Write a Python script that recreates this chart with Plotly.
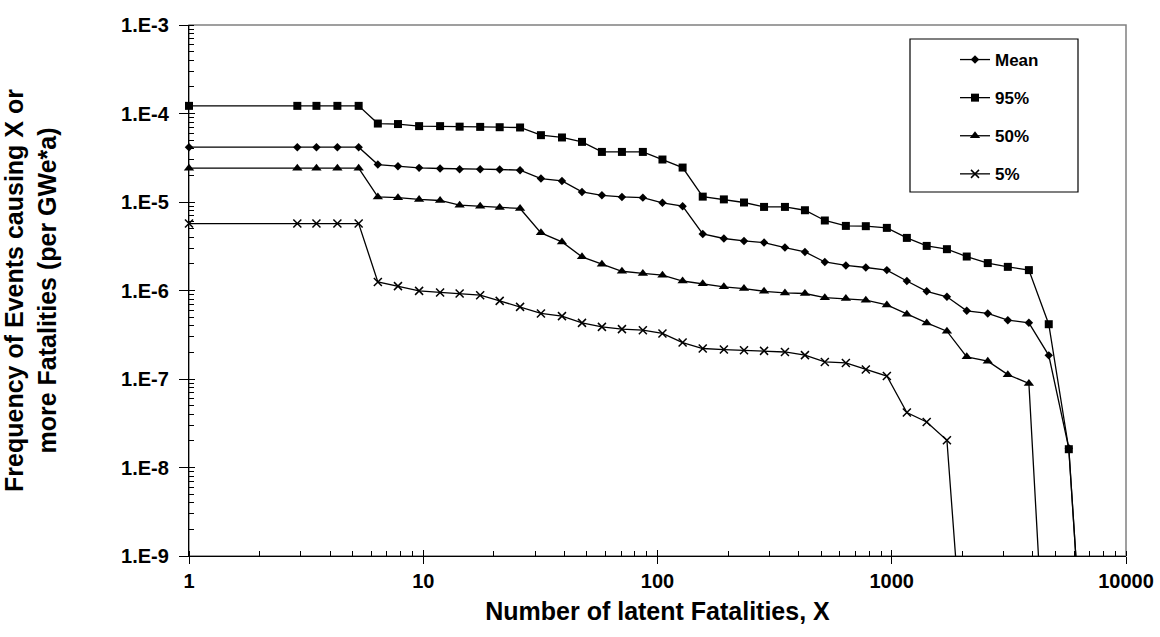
import plotly.graph_objects as go

fatalities = [1, 2.9, 3.5, 4.3, 5.3, 6.4, 7.8, 9.6, 11.8, 14.3, 17.5, 21.2, 25.9, 31.8,
              39.1, 47.6, 57.9, 70.5, 86.6, 105, 128, 156, 192, 234, 285, 350, 426, 518,
              637, 775, 953, 1160, 1410, 1720, 2090, 2570, 3130, 3850, 4680, 5700, 7000]

mean_freq = [4.16e-5, 4.16e-5, 4.16e-5, 4.16e-5, 4.16e-5, 2.65e-5, 2.54e-5, 2.43e-5, 2.39e-5,
             2.35e-5, 2.35e-5, 2.33e-5, 2.29e-5, 1.84e-5, 1.73e-5, 1.30e-5, 1.19e-5, 1.14e-5,
             1.12e-5, 9.8e-6, 8.97e-6, 4.36e-6, 3.87e-6, 3.63e-6, 3.48e-6, 3.06e-6, 2.73e-6,
             2.1e-6, 1.92e-6, 1.82e-6, 1.7e-6, 1.28e-6, 9.8e-7, 8.5e-7, 5.9e-7, 5.5e-7,
             4.62e-7, 4.31e-7, 1.85e-7, 1.65e-8, 4e-12]

p95_freq = [1.22e-4, 1.22e-4, 1.22e-4, 1.22e-4, 1.22e-4, 7.7e-5, 7.6e-5, 7.2e-5, 7.2e-5,
            7.1e-5, 7.06e-5, 7.0e-5, 6.95e-5, 5.69e-5, 5.36e-5, 4.78e-5, 3.68e-5, 3.68e-5,
            3.68e-5, 3.02e-5, 2.45e-5, 1.15e-5, 1.07e-5, 9.87e-6, 8.8e-6, 8.8e-6, 8.07e-6,
            6.18e-6, 5.37e-6, 5.33e-6, 5.1e-6, 3.93e-6, 3.19e-6, 2.93e-6, 2.42e-6, 2.04e-6,
            1.85e-6, 1.7e-6, 4.16e-7, 1.61e-8, 4e-12]

p50_freq = [2.41e-5, 2.41e-5, 2.41e-5, 2.41e-5, 2.41e-5, 1.14e-5, 1.12e-5, 1.07e-5, 1.04e-5,
            9.2e-6, 8.97e-6, 8.67e-6, 8.45e-6, 4.48e-6, 3.54e-6, 2.4e-6, 1.98e-6, 1.65e-6,
            1.56e-6, 1.49e-6, 1.28e-6, 1.19e-6, 1.1e-6, 1.05e-6, 9.8e-7, 9.4e-7, 9.25e-7,
            8.3e-7, 8.1e-7, 7.77e-7, 6.87e-7, 5.4e-7, 4.3e-7, 3.47e-7, 1.78e-7, 1.59e-7,
            1.12e-7, 8.9e-8, 8e-12]

p05_freq = [5.71e-6, 5.71e-6, 5.71e-6, 5.71e-6, 5.71e-6, 1.25e-6, 1.12e-6, 9.9e-7, 9.5e-7,
            9.25e-7, 8.85e-7, 7.63e-7, 6.53e-7, 5.5e-7, 5.13e-7, 4.31e-7, 3.88e-7, 3.66e-7,
            3.56e-7, 3.27e-7, 2.58e-7, 2.21e-7, 2.15e-7, 2.11e-7, 2.08e-7, 2.02e-7, 1.86e-7,
            1.56e-7, 1.52e-7, 1.28e-7, 1.08e-7, 4.18e-8, 3.27e-8, 2.03e-8, 2e-11]

series_names = ["Mean", "95%", "50%", "5%"]
x_tick_vals = [1, 10, 100, 1000, 10000]
x_tick_text = ["1", "10", "100", "1000", "10000"]
y_tick_vals = [1e-9, 1e-8, 1e-7, 1e-6, 1e-5, 1e-4, 1e-3]
y_tick_text = ["1.E-9", "1.E-8", "1.E-7", "1.E-6", "1.E-5", "1.E-4", "1.E-3"]

FONT = "Arial, Liberation Sans, sans-serif"

fig = go.Figure()
specs = [
    (series_names[0], mean_freq, dict(symbol="diamond", size=6.5)),
    (series_names[1], p95_freq, dict(symbol="square", size=8)),
    (series_names[2], p50_freq, dict(symbol="triangle-up", size=9)),
    (series_names[3], p05_freq, dict(symbol="x-thin", size=8, line=dict(width=1.5, color="black"))),
]
for i, (name, vals, mk) in enumerate(specs):
    fig.add_trace(go.Scatter(
        x=fatalities[:len(vals)], y=vals, name=name, mode="lines+markers",
        line=dict(color="black", width=1.3),
        marker=dict(color="black", **mk),
        legendgroup=f"g{i}", cliponaxis=False,
    ))

# invisible helper trace so the overlay axes (inner half of crossing major ticks) render
fig.add_trace(go.Scatter(x=[fatalities[0]], y=[p95_freq[0]], xaxis="x2", yaxis="y2",
                         mode="markers", marker=dict(opacity=0), showlegend=False,
                         hoverinfo="skip"))

# plot-area border (grey) and legend box
fig.add_shape(type="rect", xref="paper", yref="paper", x0=0, y0=0, x1=1, y1=1,
              line=dict(color="#808080", width=1.5), layer="below")
fig.add_shape(type="rect", xref="paper", yref="paper",
              x0=(910 - 189) / 937, x1=(1078 - 189) / 937,
              y0=(556 - 192) / 531, y1=(556 - 39) / 531,
              line=dict(color="black", width=1.2), fillcolor="white", layer="below")

tickfont = dict(family=FONT, size=20, color="black", weight="bold")
titlefont = dict(family=FONT, size=25, color="black", weight="bold")

fig.update_layout(
    width=1160, height=637,
    margin=dict(l=189, r=34, t=25, b=81, autoexpand=False),
    paper_bgcolor="white", plot_bgcolor="white",
    font=dict(family=FONT, color="black"),
    showlegend=True,
    legend=dict(x=(955 - 189) / 937, y=(556 - 42) / 531, xanchor="left", yanchor="top",
                bgcolor="rgba(0,0,0,0)", borderwidth=0,
                font=dict(family=FONT, size=17, color="black", weight="bold"),
                tracegroupgap=13, itemwidth=30),
    xaxis=dict(
        type="log", range=[0, 4], automargin=False,
        tickvals=x_tick_vals, ticktext=x_tick_text, tickfont=tickfont,
        ticks="outside", ticklen=7, tickwidth=1, tickcolor="black",
        showline=True, linecolor="black", linewidth=1.3,
        showgrid=False, zeroline=False,
        minor=dict(ticks="inside", ticklen=5, tickcolor="black", showgrid=False,
                   dtick="D1"),
        title=dict(text="Number of latent Fatalities, X", font=titlefont, standoff=11),
    ),
    yaxis=dict(
        type="log", range=[-9, -3], automargin=False,
        tickvals=y_tick_vals, ticktext=y_tick_text, tickfont=tickfont,
        ticks="outside", ticklen=9, tickwidth=1, tickcolor="black",
        ticklabelstandoff=6,
        showline=True, linecolor="black", linewidth=1.3,
        showgrid=False, zeroline=False,
        minor=dict(ticks="inside", ticklen=5, tickcolor="black", showgrid=False,
                   dtick="D1"),
        title=dict(text="Frequency of Events causing X or<br>more Fatalities (per GWe*a)",
                   font=titlefont, standoff=64),
    ),
    xaxis2=dict(type="log", range=[0, 4], overlaying="x", automargin=False,
                tickvals=x_tick_vals, ticks="inside", ticklen=6, tickcolor="black",
                showticklabels=False, showgrid=False, zeroline=False, showline=False),
    yaxis2=dict(type="log", range=[-9, -3], overlaying="y", automargin=False,
                tickvals=y_tick_vals, ticks="inside", ticklen=6, tickcolor="black",
                showticklabels=False, showgrid=False, zeroline=False, showline=False),
)

fig.write_html("out.html", config={"displayModeBar": False},
               post_script="document.body.style.margin='0';")
